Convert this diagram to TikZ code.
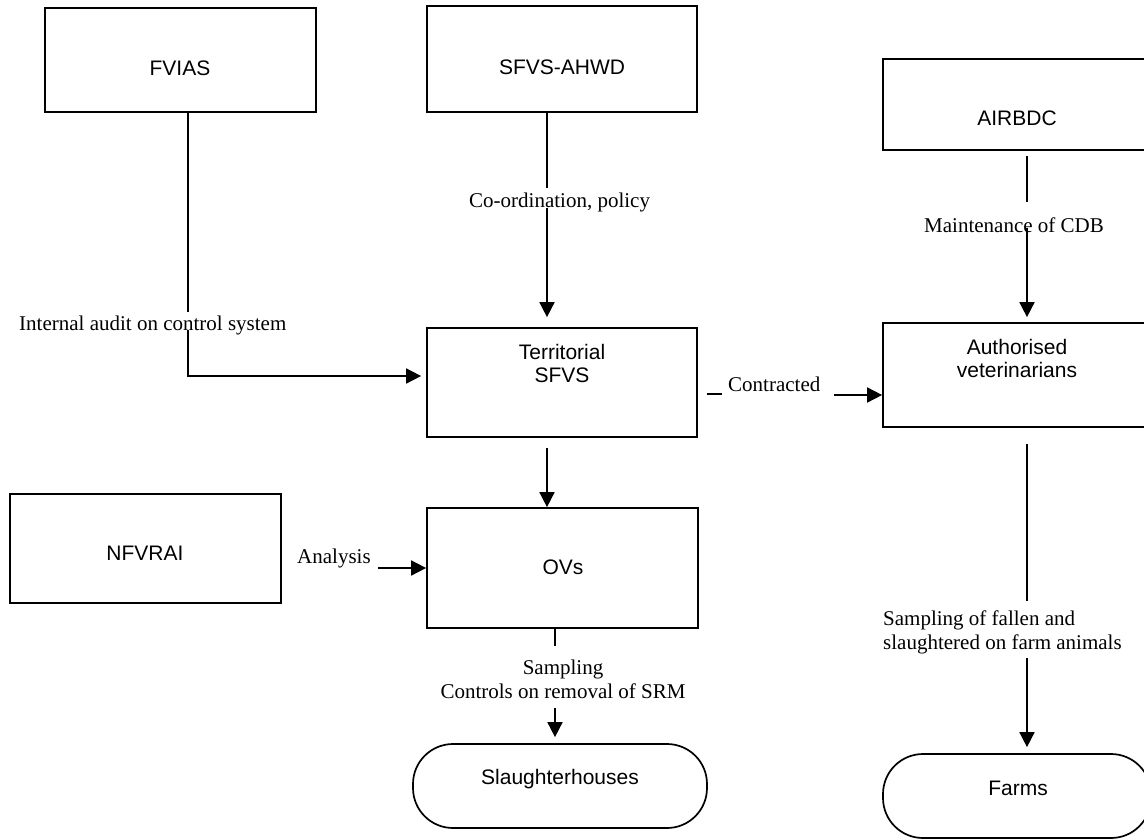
\documentclass[tikz,border=0pt]{standalone}
\usepackage{fontspec}
\setmainfont{Liberation Sans}
\newfontfamily\lblfont{Liberation Serif}
\usetikzlibrary{arrows.meta}
\begin{document}
\begin{tikzpicture}[x=1pt,y=-1pt,
  boxnode/.style={draw=black, line width=1.7pt, inner sep=0pt},
  roundnode/.style={boxnode, rounded corners=40pt},
  boxtext/.style={inner sep=0pt, font=\fontsize{21}{23}\selectfont, align=center, anchor=base},
  edgetext/.style={inner sep=0pt, font=\lblfont\fontsize{21}{24.5}\selectfont, anchor=base west},
  ln/.style={draw=black, line width=1.6pt},
  ar/.style={ln, -{Triangle[length=15pt,width=15pt]}}]
\useasboundingbox (0,0) rectangle (1144,839);
\fill[white] (0,0) rectangle (1144,839);

% boxes
\node[boxnode, minimum width=271pt, minimum height=104pt] (fvias) at (180.5,60) {};
\node[boxnode, minimum width=270pt, minimum height=106pt] (sfvs) at (562,59) {};
\node[boxnode, minimum width=268pt, minimum height=91pt] (air) at (1017,104.5) {};
\node[boxnode, minimum width=270pt, minimum height=109pt] (terr) at (562,382.5) {};
\node[boxnode, minimum width=268pt, minimum height=104pt] (auth) at (1017,375) {};
\node[boxnode, minimum width=271pt, minimum height=109pt] (nfv) at (145.5,548.5) {};
\node[boxnode, minimum width=271pt, minimum height=120pt] (ovs) at (562.5,568) {};
\node[roundnode, minimum width=294pt, minimum height=84pt] (sl) at (560,786) {};
\node[roundnode, minimum width=268pt, minimum height=84pt] (farms) at (1017,796) {};

% box texts (multi-line: base anchor = last line's baseline)
\node[boxtext] (tfvias) at (180,75.5) {FVIAS};
\node[boxtext] (tsfvs) at (562,74.5) {SFVS-AHWD};
\node[boxtext] (tair) at (1017,125.5) {AIRBDC};
\node[boxtext] (tterr) at (562,382.5) {Territorial\\SFVS};
\node[boxtext] (tauth) at (1017,377.5) {Authorised\\veterinarians};
\node[boxtext] (tnfv) at (145,560.5) {NFVRAI};
\node[boxtext] (tovs) at (563,574.5) {OVs};
\node[boxtext] (tsl) at (560,784.5) {Slaughterhouses};
\node[boxtext] (tfarms) at (1018,795.5) {Farms};

% coordinates for connector breaks
\coordinate (a1) at (188,312);
\coordinate (a2) at (188,330);
\coordinate (a3) at (188,376);
\coordinate (b1) at (547,188);
\coordinate (b2) at (547,208);
\coordinate (c1) at (1027,202);
\coordinate (c2) at (1027,228);
\coordinate (d0) at (707,394);
\coordinate (d1) at (722,394);
\coordinate (d2) at (834,395);
\coordinate (e1) at (547,448);
\coordinate (f1) at (378,568);
\coordinate (g1) at (555,646);
\coordinate (g2) at (555,708);
\coordinate (h1) at (1027,601);
\coordinate (h2) at (1027,658);

% connectors
\draw[ln] (a1 |- fvias.south) -- (a1);
\draw[ar, shorten >=5pt] (a2) -- (a3) -- (a3 -| terr.west);
\draw[ln] (b1 |- sfvs.south) -- (b1);
\draw[ar, shorten >=10pt] (b2) -- (b2 |- terr.north);
\draw[ln, shorten <=5pt] (c1 |- air.south) -- (c1);
\draw[ar, shorten >=5pt] (c2) -- (c2 |- auth.north);
\draw[ln] (d0) -- (d1);
\draw[ar] (d2) -- (d2 -| auth.west);
\draw[ar] (e1) -- (e1 |- ovs.north);
\draw[ar] (f1) -- (f1 -| ovs.west);
\draw[ln] (g1 |- ovs.south) -- (g1);
\draw[ar, shorten >=6pt] (g2) -- (g2 |- sl.north);
\draw[ln, shorten <=16pt] (h1 |- auth.south) -- (h1);
\draw[ar, shorten >=6pt] (h2) -- (h2 |- farms.north);

% edge labels
\node[edgetext] (laudit) at (19,330) {Internal audit on control system};
\node[edgetext] (lcoord) at (469,207) {Co-ordination, policy};
\node[edgetext] (lmaint) at (924,232) {Maintenance of CDB};
\node[edgetext] (lcontr) at (728,391) {Contracted};
\node[edgetext] (lanal) at (297,563) {Analysis};
\node[edgetext, anchor=base, align=center] (lsamp) at (563,698.5) {Sampling\\Controls on removal of SRM};
\node[edgetext, align=left] (lfall) at (883,649.5) {Sampling of fallen and\\slaughtered on farm animals};
\end{tikzpicture}
\end{document}
